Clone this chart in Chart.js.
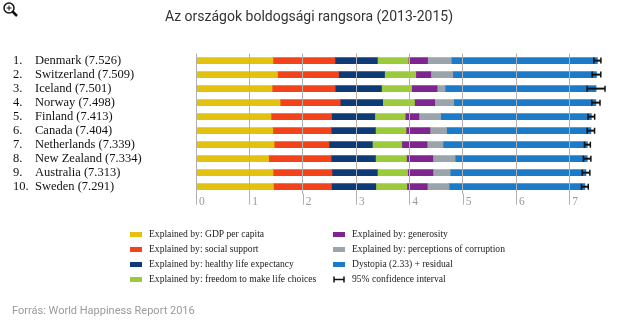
<!DOCTYPE html>
<html>
<head>
<meta charset="utf-8">
<script src="https://cdn.jsdelivr.net/npm/chart.js@4"></script>
<style>
  html, body { margin: 0; padding: 0; background: #fff; }
  #wrap { width: 620px; height: 327px; position: relative; }
</style>
</head>
<body>
<div id="wrap"><canvas id="happyChart" width="620" height="327"></canvas></div>
<script>
// World Happiness Report 2016, top 10
const countries = ["Denmark", "Switzerland", "Iceland", "Norway", "Finland", "Canada", "Netherlands", "New Zealand", "Australia", "Sweden"];
const scores = ["7.526", "7.509", "7.501", "7.498", "7.413", "7.404", "7.339", "7.334", "7.313", "7.291"];

const gdp = [1.442, 1.527, 1.427, 1.577, 1.406, 1.440, 1.465, 1.361, 1.444, 1.452];
const socialSupport = [1.164, 1.145, 1.183, 1.127, 1.135, 1.096, 1.029, 1.173, 1.105, 1.088];
const lifeExpectancy = [0.795, 0.863, 0.867, 0.796, 0.811, 0.828, 0.812, 0.831, 0.851, 0.831];
const freedom = [0.579, 0.586, 0.566, 0.596, 0.571, 0.574, 0.552, 0.581, 0.568, 0.582];
const generosity = [0.362, 0.281, 0.477, 0.379, 0.255, 0.448, 0.474, 0.494, 0.474, 0.383];
const corruption = [0.445, 0.412, 0.150, 0.358, 0.410, 0.313, 0.299, 0.419, 0.323, 0.409];
const dystopia = [2.739, 2.695, 2.831, 2.665, 2.826, 2.705, 2.707, 2.476, 2.547, 2.547];

const ciLow = [7.460, 7.428, 7.333, 7.421, 7.351, 7.335, 7.284, 7.264, 7.241, 7.227];
const ciHigh = [7.592, 7.590, 7.669, 7.575, 7.475, 7.473, 7.394, 7.404, 7.385, 7.355];

const seriesLabels = [
    "Explained by: GDP per capita",
    "Explained by: social support",
    "Explained by: healthy life expectancy",
    "Explained by: freedom to make life choices",
    "Explained by: generosity",
    "Explained by: perceptions of corruption",
    "Dystopia (2.33) + residual"
];
const seriesColors = ["#e3c20f", "#f2431b", "#0e3b75", "#9bcb3b", "#7e2590", "#9aa4aa", "#1b7bc8"];
const seriesValues = [gdp, socialSupport, lifeExpectancy, freedom, generosity, corruption, dystopia];

const titleText = "Az országok boldogsági rangsora (2013-2015)";
const sourceText = "Forrás: World Happiness Report 2016";

const serif = "'Liberation Serif', 'DejaVu Serif', serif";
const sans = "Roboto, 'Liberation Sans', sans-serif";
const gridColor = "#b0b0b0";

// country names, error bars, tick marks, legend, title, source, icon
const extras = {
    id: "extras",
    afterDatasetsDraw(chart) {
        const ctx = chart.ctx;
        const x = chart.scales.x;
        const y = chart.scales.y;
        ctx.save();

        // tick marks below the plot
        ctx.strokeStyle = gridColor;
        ctx.lineWidth = 1;
        x.ticks.forEach(t => {
            if (!Number.isInteger(t.value)) return;
            const px = Math.round(x.getPixelForValue(t.value)) + 0.5;
            ctx.beginPath();
            ctx.moveTo(px, x.top);
            ctx.lineTo(px, x.top + 11);
            ctx.stroke();
        });

        // confidence intervals
        ctx.strokeStyle = "#111";
        for (let i = 0; i < countries.length; i++) {
            const py = y.getPixelForValue(i);
            const x1 = x.getPixelForValue(ciLow[i]);
            const x2 = x.getPixelForValue(ciHigh[i]);
            ctx.lineWidth = 2;
            ctx.beginPath();
            ctx.moveTo(x1, py); ctx.lineTo(x2, py);
            ctx.stroke();
            ctx.lineWidth = 1.5;
            ctx.beginPath();
            ctx.moveTo(x1, py - 3); ctx.lineTo(x1, py + 3);
            ctx.moveTo(x2, py - 3); ctx.lineTo(x2, py + 3);
            ctx.stroke();
        }

        // row labels
        ctx.fillStyle = "#111";
        ctx.font = "12.5px " + serif;
        ctx.textBaseline = "middle";
        ctx.textAlign = "left";
        for (let i = 0; i < countries.length; i++) {
            const py = y.getPixelForValue(i);
            ctx.fillText((i + 1) + ".", 13, py);
            ctx.fillText(countries[i] + " (" + scores[i] + ")", 35, py);
        }

        // legend
        ctx.font = "9.6px " + serif;
        const cols = [130, 333];
        const rows = [234.5, 249.5, 264.5, 279.5];
        for (let k = 0; k < 8; k++) {
            const lx = cols[Math.floor(k / 4)];
            const ly = rows[k % 4];
            if (k < 7) {
                ctx.fillStyle = seriesColors[k];
                ctx.fillRect(lx, ly - 2.5, 12, 5);
                ctx.fillStyle = "#222";
                ctx.fillText(seriesLabels[k], lx + 19, ly);
            } else {
                ctx.strokeStyle = "#111";
                ctx.lineWidth = 1.5;
                ctx.beginPath();
                ctx.moveTo(lx + 1, ly); ctx.lineTo(lx + 11, ly);
                ctx.moveTo(lx + 1, ly - 3); ctx.lineTo(lx + 1, ly + 3);
                ctx.moveTo(lx + 11, ly - 3); ctx.lineTo(lx + 11, ly + 3);
                ctx.stroke();
                ctx.fillStyle = "#222";
                ctx.fillText("95% confidence interval", lx + 19, ly);
            }
        }

        // title
        ctx.fillStyle = "#333";
        ctx.font = "14px " + sans;
        ctx.textAlign = "center";
        ctx.fillText(titleText, 309, 17);

        // source
        ctx.textAlign = "left";
        ctx.fillStyle = "#9a9a9a";
        ctx.font = "11px " + sans;
        ctx.fillText(sourceText, 12, 311);

        // zoom icon
        ctx.strokeStyle = "#111";
        ctx.lineWidth = 1.5;
        ctx.beginPath();
        ctx.arc(9, 8, 5, 0, Math.PI * 2);
        ctx.stroke();
        ctx.lineWidth = 1;
        ctx.beginPath();
        ctx.moveTo(6.5, 8); ctx.lineTo(11.5, 8);
        ctx.moveTo(9, 5.5); ctx.lineTo(9, 10.5);
        ctx.stroke();
        ctx.lineWidth = 2.5;
        ctx.beginPath();
        ctx.moveTo(12.5, 11.5); ctx.lineTo(17, 16);
        ctx.stroke();

        ctx.restore();
    }
};

const canvasElement = document.getElementById("happyChart");

const happyChart = new Chart(canvasElement, {
    type: "bar",
    data: {
        labels: countries,
        datasets: seriesLabels.map((label, k) => ({
            label: label,
            data: seriesValues[k],
            backgroundColor: seriesColors[k],
            borderWidth: 0,
            barThickness: 6
        }))
    },
    options: {
        indexAxis: "y",
        responsive: false,
        animation: false,
        layout: { padding: { left: 196, right: 8, top: 53.6, bottom: 117.5 } },
        scales: {
            x: {
                stacked: true,
                min: 0,
                max: 7.8,
                border: { display: false },
                grid: {
                    z: 1,
                    color: (c) => Number.isInteger(c.tick && c.tick.value) ? gridColor : "rgba(0,0,0,0)",
                    lineWidth: 1,
                    drawTicks: false
                },
                ticks: {
                    stepSize: 1,
                    align: "start",
                    labelOffset: 3,
                    padding: 1,
                    color: "#9a9a9a",
                    font: { family: serif, size: 11.5 },
                    callback: (v) => Number.isInteger(v) ? String(v) : ""
                }
            },
            y: {
                stacked: true,
                display: false
            }
        },
        plugins: {
            legend: { display: false },
            tooltip: { enabled: false },
            title: { display: false }
        }
    },
    plugins: [extras]
});
</script>
</body>
</html>
